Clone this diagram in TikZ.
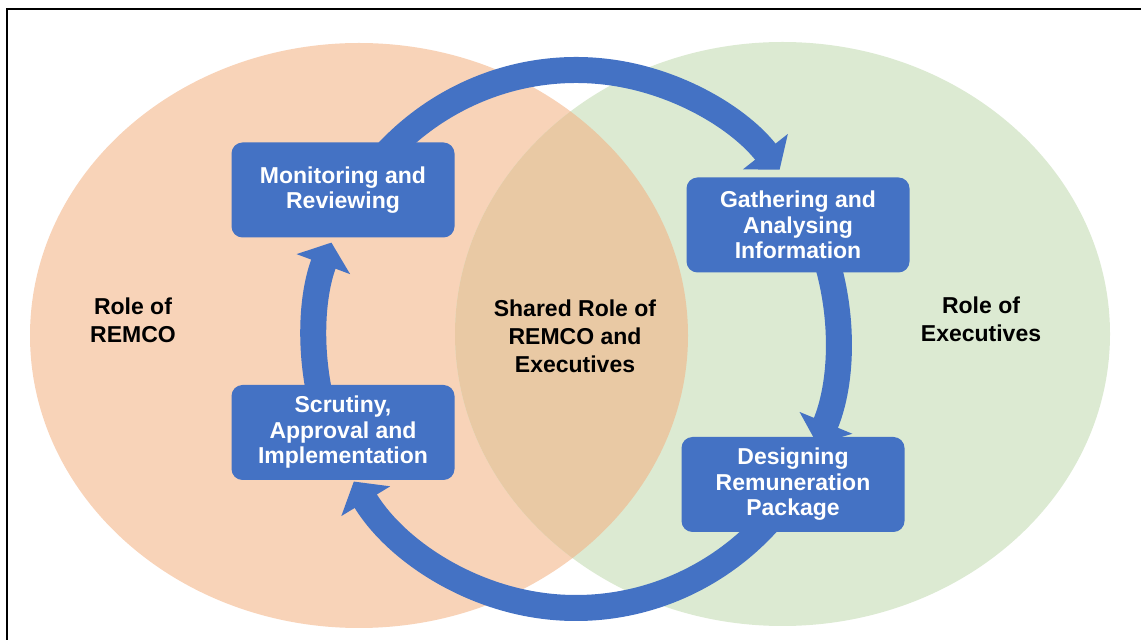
\documentclass[tikz,border=0pt]{standalone}
\usepackage{fontspec}
\setmainfont{Liberation Sans}
\usetikzlibrary{arrows.meta}

\definecolor{remcofill}{HTML}{F8D3B8}
\definecolor{execfill}{HTML}{DCEAD2}
\definecolor{sharedfill}{HTML}{E9C9A4}
\definecolor{stageblue}{HTML}{4472C4}

\begin{document}
\begin{tikzpicture}[x=1pt, y=1pt,
    stage/.style={rectangle, rounded corners=11pt, fill=stageblue, text=white, inner sep=0pt,
        minimum width=223pt, minimum height=95pt, align=center,
        font=\fontsize{23}{25.5}\selectfont\bfseries},
    role/.style={align=center, font=\fontsize{23}{28}\selectfont\bfseries},
    flow/.style={draw=stageblue, line width=26pt, -{Triangle[width=56pt, length=23pt]}}]
    \useasboundingbox (0,0) rectangle (1141,640);

    % Ellipses for the two roles and their overlap
    \fill[remcofill] (359,304.5) ellipse [x radius=329pt, y radius=292.5pt];
    \fill[execfill] (782.5,306) ellipse [x radius=327.5pt, y radius=292pt];
    \begin{scope}
        \clip (359,304.5) ellipse [x radius=329pt, y radius=292.5pt];
        \fill[sharedfill] (782.5,306) ellipse [x radius=327.5pt, y radius=292pt];
    \end{scope}

    % Frame
    \draw[line width=2pt] (7,-10) |- (1160,631);

    % Start points of the cycle arrows, hidden under the boxes
    \coordinate (c) at (576,301);
    \path (c) ++(140:262pt and 269pt) coordinate (mon-out);
    \path (c) ++(20:262pt and 269pt) coordinate (gat-out);
    \path (c) ++(-40:262pt and 269pt) coordinate (des-out);
    \path (c) ++(197:262pt and 269pt) coordinate (scr-out);

    % Cycle arrows
    \draw[flow] (mon-out) arc[start angle=140, end angle=39, x radius=262pt, y radius=269pt];
    \draw[flow] (gat-out) arc[start angle=20, end angle=-23, x radius=262pt, y radius=269pt];
    \draw[flow] (des-out) arc[start angle=-40, end angle=-148, x radius=262pt, y radius=269pt];
    \draw[flow] (scr-out) arc[start angle=197, end angle=159, x radius=262pt, y radius=269pt];

    % Stages
    \node[stage] (mon) at (343,450) {Monitoring and\\Reviewing};
    \node[stage] (gat) at (798,415) {Gathering and\\Analysing\\Information};
    \node[stage] (des) at (793,155.5) {Designing\\Remuneration\\Package};
    \node[stage] (scr) at (343,207.5) {Scrutiny,\\Approval and\\Implementation};

    % Role labels
    \node[role] (remco) at (133,319.5) {Role of\\REMCO};
    \node[role] (shared) at (575,304) {Shared Role of\\REMCO and\\Executives};
    \node[role] (execs) at (981,320.5) {Role of\\Executives};
\end{tikzpicture}
\end{document}
